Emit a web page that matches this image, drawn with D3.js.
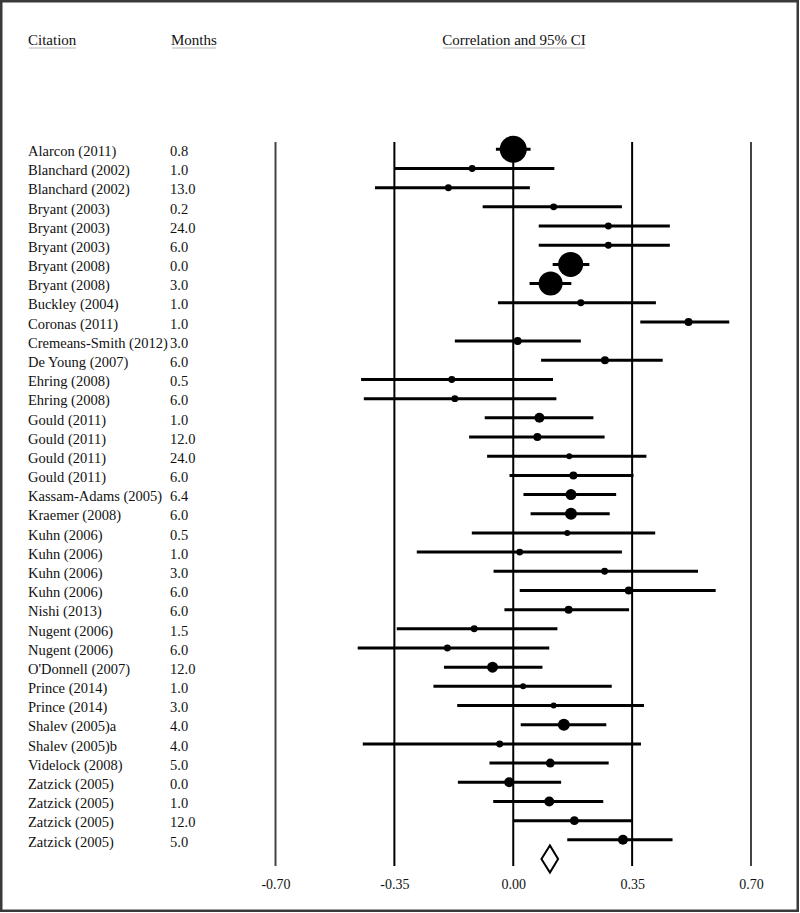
<!DOCTYPE html>
<html>
<head>
<meta charset="utf-8">
<script src="https://cdn.jsdelivr.net/npm/d3@7"></script>
<style>
  body { margin: 0; background: #fff; }
  svg text { font-family: "Liberation Serif", "Times New Roman", serif; fill: #111; }
</style>
</head>
<body>
<svg id="forest" width="800" height="913"></svg>
<script>
// study labels and follow-up months
let citations = ["Alarcon (2011)", "Blanchard (2002)", "Blanchard (2002)", "Bryant (2003)", "Bryant (2003)",
    "Bryant (2003)", "Bryant (2008)", "Bryant (2008)", "Buckley (2004)", "Coronas (2011)",
    "Cremeans-Smith (2012)", "De Young (2007)", "Ehring (2008)", "Ehring (2008)", "Gould (2011)",
    "Gould (2011)", "Gould (2011)", "Gould (2011)", "Kassam-Adams (2005)", "Kraemer (2008)",
    "Kuhn (2006)", "Kuhn (2006)", "Kuhn (2006)", "Kuhn (2006)", "Nishi (2013)",
    "Nugent (2006)", "Nugent (2006)", "O'Donnell (2007)", "Prince (2014)", "Prince (2014)",
    "Shalev (2005)a", "Shalev (2005)b", "Videlock (2008)", "Zatzick (2005)", "Zatzick (2005)",
    "Zatzick (2005)", "Zatzick (2005)"];
let months = ["0.8", "1.0", "13.0", "0.2", "24.0", "6.0", "0.0", "3.0", "1.0", "1.0",
    "3.0", "6.0", "0.5", "6.0", "1.0", "12.0", "24.0", "6.0", "6.4", "6.0",
    "0.5", "1.0", "3.0", "6.0", "6.0", "1.5", "6.0", "12.0", "1.0", "3.0",
    "4.0", "4.0", "5.0", "0.0", "1.0", "12.0", "5.0"];

// correlation and 95% CI per study
let estimates = [0.000, -0.121, -0.191, 0.119, 0.280, 0.280, 0.169, 0.110, 0.199, 0.516,
    0.013, 0.270, -0.181, -0.172, 0.077, 0.071, 0.165, 0.177, 0.170, 0.170,
    0.159, 0.019, 0.269, 0.340, 0.163, -0.115, -0.194, -0.061, 0.029, 0.119,
    0.149, -0.040, 0.109, -0.012, 0.106, 0.180, 0.323];
let lowerCI = [-0.051, -0.348, -0.407, -0.090, 0.075, 0.075, 0.116, 0.048, -0.045, 0.374,
    -0.172, 0.082, -0.448, -0.440, -0.084, -0.130, -0.077, -0.011, 0.030, 0.051,
    -0.122, -0.284, -0.058, 0.019, -0.026, -0.343, -0.458, -0.204, -0.235, -0.165,
    0.022, -0.443, -0.070, -0.163, -0.059, 0.000, 0.159];
let upperCI = [0.051, 0.121, 0.049, 0.320, 0.461, 0.461, 0.224, 0.171, 0.420, 0.636,
    0.199, 0.440, 0.117, 0.127, 0.236, 0.269, 0.392, 0.354, 0.303, 0.284,
    0.418, 0.320, 0.544, 0.596, 0.341, 0.130, 0.106, 0.086, 0.290, 0.385,
    0.274, 0.376, 0.281, 0.141, 0.265, 0.349, 0.469];
// relative study weights (marker area)
let weights = [9.1, 0.6, 0.6, 0.6, 0.6, 0.6, 7.8, 7.2, 0.6, 0.8,
    0.8, 0.8, 0.6, 0.6, 1.25, 0.8, 0.45, 0.8, 1.5, 1.8,
    0.45, 0.6, 0.6, 0.8, 0.8, 0.6, 0.6, 1.5, 0.45, 0.45,
    1.8, 0.6, 1.0, 1.25, 1.25, 1.0, 1.25];

// pooled estimate
let summary = {est: 0.108, lower: 0.083, upper: 0.132};

let tickValues = [-0.70, -0.35, 0.00, 0.35, 0.70];
let headers = [
    {label: "Citation", x: 28, anchor: "start"},
    {label: "Months", x: 171, anchor: "start"},
    {label: "Correlation and 95% CI", x: 514, anchor: "middle"}
];

let svg = d3.select("#forest");
let svgWidth = +svg.attr("width");
let svgHeight = +svg.attr("height");

// frame
svg.append("rect")
    .attr("x", 1.25).attr("y", 1.25)
    .attr("width", svgWidth - 3.5).attr("height", svgHeight - 3.5)
    .attr("fill", "none")
    .attr("stroke", "#3a3a3a")
    .attr("stroke-width", 2.5);

let x = d3.scaleLinear().domain([-0.7, 0.7]).range([275.5, 751]);
let rowIdx = d3.range(citations.length + 1);
let y = d3.scalePoint().domain(rowIdx).range([149.3, 859]);

// headers with underline
let head = svg.append("g").attr("class", "headers");
headers.forEach(h => {
    let t = head.append("text")
        .attr("x", h.x).attr("y", 44.5)
        .attr("text-anchor", h.anchor)
        .style("font-size", "15px")
        .text(h.label);
    let bb = t.node().getBBox();
    head.append("line")
        .attr("x1", bb.x + 1).attr("x2", bb.x + bb.width - 1)
        .attr("y1", 48).attr("y2", 48)
        .attr("stroke", "#b5b5b5").attr("stroke-width", 1.2);
});

// reference lines
svg.append("g").attr("class", "grid")
    .selectAll("line")
    .data(tickValues).enter()
    .append("line")
    .attr("x1", d => x(d)).attr("x2", d => x(d))
    .attr("y1", 142).attr("y2", 866)
    .attr("stroke", d => Math.abs(d) > 0.5 ? "#444" : "#000")
    .attr("stroke-width", 2);

// axis labels
let axis = svg.append("g")
    .attr("transform", "translate(0,875)")
    .call(d3.axisBottom(x).tickValues(tickValues).tickSize(0)
        .tickFormat(d => d3.format(".2f")(d).replace("\u2212", "-")));
axis.select(".domain").remove();
axis.selectAll("text")
    .attr("y", 0).attr("dy", "14px")
    .style("font-family", "'Liberation Serif', serif")
    .style("font-size", "14px")
    .attr("fill", "#111");

// row labels
let rows = svg.append("g").attr("class", "rows")
    .selectAll("g.row")
    .data(citations).enter()
    .append("g")
    .classed("row", true);

rows.append("text")
    .attr("x", 28)
    .attr("y", (d, i) => y(i) + 6.7)
    .style("font-size", "14.5px")
    .text(d => d);

rows.append("text")
    .attr("x", 170)
    .attr("y", (d, i) => y(i) + 6.7)
    .style("font-size", "14.5px")
    .text((d, i) => months[i]);

// CI lines and markers
let r = d3.scaleSqrt().domain([0, d3.max(weights)]).range([0, 13.5]);

rows.append("line")
    .attr("x1", (d, i) => x(lowerCI[i]))
    .attr("x2", (d, i) => x(upperCI[i]))
    .attr("y1", (d, i) => y(i)).attr("y2", (d, i) => y(i))
    .attr("stroke", "#000")
    .attr("stroke-width", 3);

rows.append("circle")
    .attr("cx", (d, i) => x(estimates[i]))
    .attr("cy", (d, i) => y(i))
    .attr("r", (d, i) => r(weights[i]))
    .attr("fill", "#000");

// pooled diamond
let yS = y(citations.length);
let diamond = [[x(summary.lower), yS], [x(summary.est), yS - 13.5],
    [x(summary.upper), yS], [x(summary.est), yS + 13.5]];
svg.append("path")
    .attr("d", d3.line()(diamond) + "Z")
    .attr("fill", "#fff")
    .attr("stroke", "#000")
    .attr("stroke-width", 2);
</script>
</body>
</html>
